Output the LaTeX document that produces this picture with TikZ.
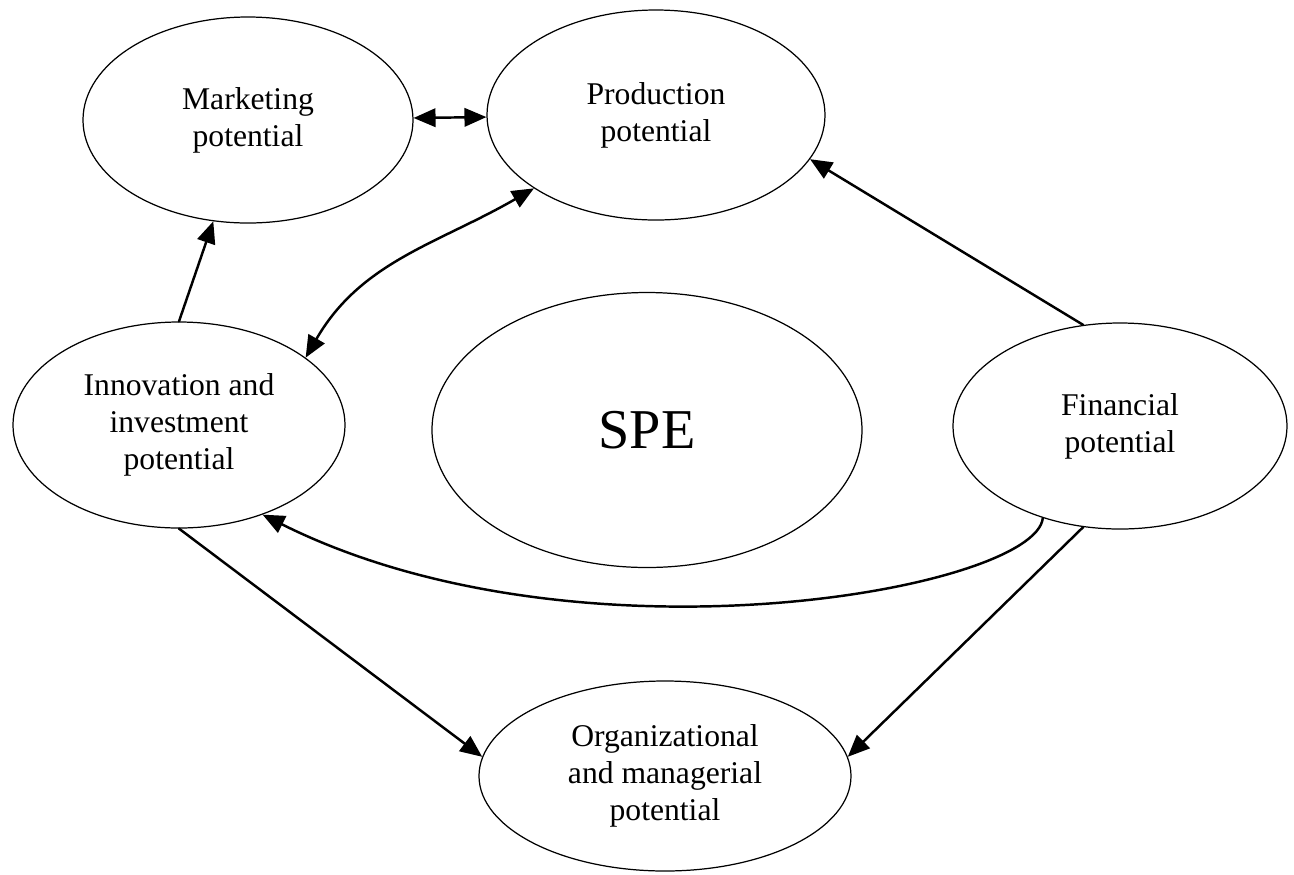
\documentclass[tikz,border=0pt]{standalone}
\usepackage{fontspec}
\setmainfont{Liberation Serif}
\usetikzlibrary{shapes.geometric,arrows.meta}
\tikzset{pot/.style={draw,ellipse,inner sep=0pt,line width=0.7pt,align=center,font=\fontsize{18}{21}\selectfont},
link/.style={line width=1.4pt}}
\begin{document}
\begin{tikzpicture}[line cap=round,line join=round,>={Triangle[length=12.5pt,width=10.5pt]}]
\useasboundingbox (0,0) rectangle (25.88,-17.48);
\node[pot,minimum width=6.6cm,minimum height=4.12cm] (mkt) at (4.96,-2.40) {Marketing\\potential};
\node[pot,minimum width=6.76cm,minimum height=4.2cm] (prod) at (13.12,-2.30) {Production\\potential};
\node[pot,minimum width=6.64cm,minimum height=4.12cm] (inno) at (3.58,-8.50) {Innovation and\\investment\\potential};
\node[pot,minimum width=8.6cm,minimum height=5.5cm,font=\fontsize{32}{38}\selectfont] (spe) at (12.94,-8.60) {SPE};
\node[pot,minimum width=6.68cm,minimum height=4.12cm] (fin) at (22.40,-8.52) {Financial\\potential};
\node[pot,minimum width=7.44cm,minimum height=3.8cm] (org) at (13.30,-15.52) {Organizational\\and managerial\\potential};
\draw[link,<->] (mkt) -- (prod);
\draw[link,->] (inno.north) -- (mkt);
\draw[link,<->] (inno.28) to[out=60,in=210] (prod.-149);
\draw[link,->] (fin.110) -- (prod.-16);
\draw[link,->] (fin.-130) .. controls +(-0.14,-1.42) and +(6.32,-3.16) .. (inno.-47);
\draw[link,->] (inno.south) -- (org.174);
\draw[link,->] (fin.-110) -- (org.6);
\end{tikzpicture}
\end{document}
